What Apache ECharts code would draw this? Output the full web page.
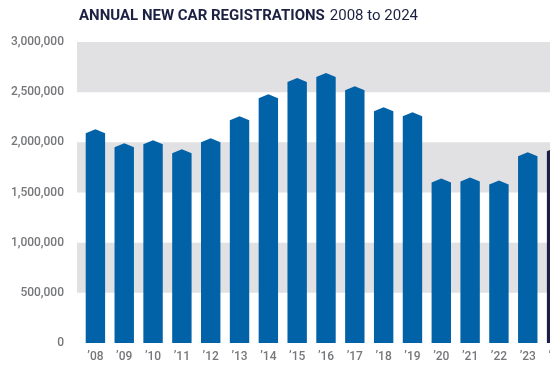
<!DOCTYPE html>
<html>
<head>
<meta charset="utf-8">
<script src="https://cdn.jsdelivr.net/npm/echarts@6/dist/echarts.min.js"></script>
<style>
html,body{margin:0;padding:0;background:#fff;overflow:hidden;}
#c{width:571px;height:378px;}
</style>
</head>
<body>
<div id="c"></div>
<script>
var categories = ['’08','’09','’10','’11','’12','’13','’14','’15','’16','’17','’18','’19','’20','’21','’22','’23','’24'];
var registrations = [2130000,1990000,2020000,1930000,2040000,2260000,2480000,2640000,2690000,2560000,2350000,2300000,1640000,1650000,1620000,1900000,1950000];
var yTicks = [0,500000,1000000,1500000,2000000,2500000,3000000];

var chart = echarts.init(document.getElementById('c'));
var labelFont = 'Roboto';
chart.setOption({
  animation: false,
  backgroundColor: '#fff',
  title: {
    text: '{b|ANNUAL NEW CAR REGISTRATIONS} {r|2008 to 2024}',
    left: 74, top: 2,
    textStyle: {
      rich: {
        b: {fontFamily: 'Roboto', fontWeight: 'bold', fontSize: 15, color: '#1c2143'},
        r: {fontFamily: 'Roboto', fontWeight: 'normal', fontSize: 15, color: '#1c2143'}
      }
    }
  },
  grid: [
    {left: 77, right: 0, top: 42, bottom: 35},
    {left: 81, right: 0, top: 42, bottom: 35}
  ],
  xAxis: [
    {gridIndex: 0, type: 'category', data: categories, show: false},
    {gridIndex: 1, type: 'category', data: categories,
     axisLine: {show: false}, axisTick: {show: false},
     axisLabel: {color: '#76777a', fontFamily: labelFont, fontWeight: 500, fontSize: 12, margin: 8, interval: 0}}
  ],
  yAxis: [
    {gridIndex: 0, type: 'value', min: 0, max: 3000000, interval: 500000,
     axisLine: {show: false}, axisTick: {show: false}, splitLine: {show: false},
     splitArea: {show: true, areaStyle: {color: ['rgba(255,255,255,0)', '#e1e0e2']}},
     axisLabel: {
       color: '#76777a', fontFamily: labelFont, fontWeight: 500, fontSize: 12, margin: 13,
       formatter: function (v) { return v.toLocaleString('en-US'); }
     }},
    {gridIndex: 1, type: 'value', min: 0, max: 3000000, interval: 500000, show: false,
     splitLine: {show: false}}
  ],
  series: [{
    type: 'custom',
    xAxisIndex: 1, yAxisIndex: 1,
    data: registrations.map(function (v, i) { return [i, v]; }),
    renderItem: function (params, api) {
      var top = api.coord([api.value(0), api.value(1)]);
      var base = api.coord([api.value(0), 0]);
      var hw = 9.7, peak = 4;
      var color = params.dataIndex === registrations.length - 1 ? '#1b1e49' : '#0162a8';
      return {
        type: 'polygon',
        shape: {points: [
          [top[0] - hw, base[1]],
          [top[0] - hw, top[1] + peak],
          [top[0], top[1]],
          [top[0] + hw, top[1] + peak],
          [top[0] + hw, base[1]]
        ]},
        style: {fill: color}
      };
    }
  }]
});
</script>
</body>
</html>
